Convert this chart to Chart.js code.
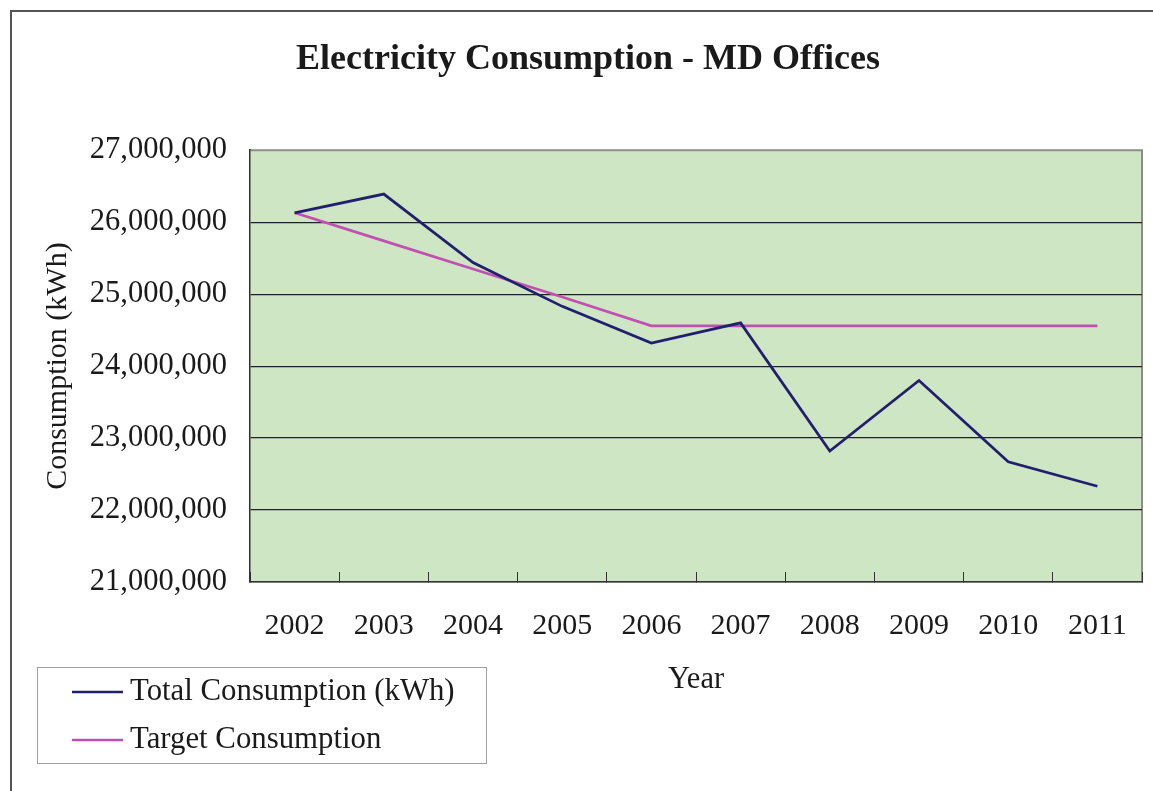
<!DOCTYPE html>
<html>
<head>
<meta charset="utf-8">
<script src="https://cdn.jsdelivr.net/npm/chart.js@4"></script>
<style>
  html, body { margin: 0; padding: 0; background: #fff; }
  #wrap { width: 1153px; height: 791px; }
</style>
</head>
<body>
<div id="wrap"><canvas id="consumptionChart" width="1153" height="791"></canvas></div>
<script>
const years = ["2002", "2003", "2004", "2005", "2006", "2007", "2008", "2009", "2010", "2011"];
const totalConsumption = [26130000, 26390000, 25440000, 24830000, 24320000, 24600000, 22820000, 23800000, 22670000, 22330000];
const targetConsumption = [26130000, 25740000, 25350000, 24960000, 24560000, 24560000, 24560000, 24560000, 24560000, 24560000];

const serif = "'Liberation Serif', 'Times New Roman', serif";
const textColor = "#1a1a1a";

// plot background, plot border and the outer frame line
const plotBackground = {
  id: "plotBackground",
  beforeDraw(chart) {
    const { ctx, chartArea: a } = chart;
    ctx.save();
    ctx.fillStyle = "#cfe6c4";
    ctx.fillRect(a.left, a.top, a.right - a.left, a.bottom - a.top);
    ctx.strokeStyle = "#8c8c8c";
    ctx.lineWidth = 2;
    ctx.beginPath();
    ctx.moveTo(a.left, a.top);
    ctx.lineTo(a.right, a.top);
    ctx.lineTo(a.right, a.bottom);
    ctx.stroke();
    // outer frame
    ctx.strokeStyle = "#555";
    ctx.lineWidth = 2;
    ctx.beginPath();
    ctx.moveTo(11, chart.height);
    ctx.lineTo(11, 11);
    ctx.lineTo(chart.width, 11);
    ctx.stroke();
    ctx.restore();
  },
};

// boxed legend in the lower left corner
const boxLegend = {
  id: "boxLegend",
  afterDraw(chart) {
    const { ctx } = chart;
    ctx.save();
    ctx.strokeStyle = "#a0a0a0";
    ctx.lineWidth = 1;
    ctx.strokeRect(37.5, 667.5, 449, 96);
    chart.data.datasets.forEach((ds, i) => {
      const y = 692 + i * 48;
      ctx.strokeStyle = ds.borderColor;
      ctx.lineWidth = 2.5;
      ctx.beginPath();
      ctx.moveTo(72, y);
      ctx.lineTo(123, y);
      ctx.stroke();
      ctx.fillStyle = textColor;
      ctx.font = "30.8px " + serif;
      ctx.textBaseline = "middle";
      ctx.textAlign = "left";
      ctx.fillText(ds.label, 130, y);
    });
    ctx.restore();
  },
};

const ctx = document.getElementById("consumptionChart").getContext("2d");

new Chart(ctx, {
  type: "line",
  data: {
    labels: years,
    datasets: [
      {
        label: "Total Consumption (kWh)",
        data: totalConsumption,
        borderColor: "#20206e",
        borderWidth: 2.75,
        pointRadius: 0,
        tension: 0,
      },
      {
        label: "Target Consumption",
        data: targetConsumption,
        borderColor: "#c250b4",
        borderWidth: 2.75,
        pointRadius: 0,
        tension: 0,
      },
    ],
  },
  options: {
    responsive: false,
    animation: false,
    layout: { padding: { left: 34, right: 11, top: 0, bottom: 0 } },
    plugins: {
      legend: { display: false },
      tooltip: { enabled: false },
      title: {
        display: true,
        text: "Electricity Consumption - MD Offices",
        color: textColor,
        font: { family: serif, size: 36, weight: "bold" },
        padding: { top: 38, bottom: 69 },
      },
    },
    scales: {
      x: {
        offset: true,
        grid: {
          offset: true,
          drawOnChartArea: false,
          tickLength: -10,
          color: "#333",
        },
        border: { color: "#333", width: 1.5 },
        ticks: {
          color: textColor,
          font: { family: serif, size: 30 },
          padding: 36,
          maxRotation: 0,
        },
        title: {
          display: true,
          text: "Year",
          color: textColor,
          font: { family: serif, size: 30.5 },
          padding: { top: 0, bottom: 93 },
        },
        afterFit(scale) {
          scale.height = 209;
          scale.paddingLeft = 0;
          scale.paddingRight = 0;
        },
      },
      y: {
        min: 21000000,
        max: 27000000,
        grid: {
          drawTicks: false,
          color: (c) => (c.tick && c.tick.value === 27000000 ? "rgba(0,0,0,0)" : "#222"),
          lineWidth: 1.2,
        },
        border: { color: "#333", width: 1.5 },
        ticks: {
          stepSize: 1000000,
          padding: 23,
          color: textColor,
          font: { family: serif, size: 30.5 },
          callback: (v) => v.toLocaleString("en-US"),
        },
        title: {
          display: true,
          text: "Consumption (kWh)",
          color: textColor,
          font: { family: serif, size: 30 },
          padding: { top: 6, bottom: 0 },
        },
        afterFit(scale) {
          scale.width = 216;
        },
      },
    },
  },
  plugins: [plotBackground, boxLegend],
});
</script>
</body>
</html>
